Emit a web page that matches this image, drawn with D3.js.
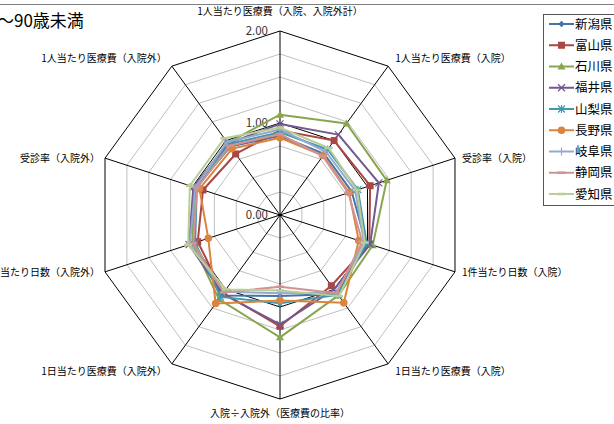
<!DOCTYPE html>
<html><head><meta charset="utf-8">
<script src="https://cdn.jsdelivr.net/npm/d3@7"></script>
<style>
html,body{margin:0;padding:0;background:#fff;}
svg{display:block;font-family:"Noto Sans CJK JP","Noto Sans",sans-serif;}
</style></head>
<body><svg id="c" width="614" height="424"></svg>
<script>
const axesLabels = [
  "1人当たり医療費（入院、入院外計）",
  "1人当たり医療費（入院）",
  "受診率（入院）",
  "1件当たり日数（入院）",
  "1日当たり医療費（入院）",
  "入院÷入院外（医療費の比率）",
  "1日当たり医療費（入院外）",
  "1件当たり日数（入院外）",
  "受診率（入院外）",
  "1人当たり医療費（入院外）"
];
const seriesNames = ["新潟県","富山県","石川県","福井県","山梨県","長野県","岐阜県","静岡県","愛知県"];
const niigata  = [0.86, 0.82, 0.82, 0.98, 1.06, 0.88, 1.08, 0.98, 0.96, 0.92];
const toyama   = [0.92, 1.00, 1.03, 1.02, 0.95, 1.21, 1.05, 0.94, 0.88, 0.82];
const ishikawa = [1.09, 1.23, 1.22, 1.06, 1.08, 1.33, 1.13, 1.00, 0.98, 0.97];
const fukui    = [0.99, 1.08, 1.13, 1.03, 1.00, 1.19, 1.06, 1.04, 0.99, 0.96];
const yamanashi= [0.90, 0.88, 0.89, 0.99, 1.07, 0.96, 1.10, 0.97, 0.95, 0.95];
const nagano   = [0.84, 0.80, 0.79, 0.90, 1.18, 0.93, 1.19, 0.82, 0.92, 0.89];
const gifu     = [0.93, 0.85, 0.86, 0.96, 1.04, 0.85, 1.03, 1.03, 0.97, 0.98];
const shizuoka = [0.88, 0.79, 0.78, 0.94, 1.05, 0.78, 1.04, 0.99, 0.95, 0.93];
const aichi    = [0.95, 0.90, 0.88, 0.97, 1.09, 0.82, 1.00, 1.05, 1.03, 1.03];
const seriesValues = [niigata, toyama, ishikawa, fukui, yamanashi, nagano, gifu, shizuoka, aichi];
const tickValues = [0, 1, 2];
const tickLabels = ["0.00", "1.00", "2.00"];
const gridValues = [0.25, 0.5, 0.75, 1, 1.25, 1.5, 1.75, 2];
const colors = ["#4572A7","#AA4643","#89A54E","#71588F","#4198AF","#DB843D","#93A9CF","#D19392","#B9CD96"];
const markers = ["diamond","square","triangle","x","star","circle","plus","dash","dash"];

const svg = d3.select("#c");
const cx = 280, cy = 215, R = 184;
const r = d3.scaleLinear().domain([0, 2]).range([0, R]);
const n = axesLabels.length;
const ang = d3.scaleLinear().domain([0, n]).range([0, 2 * Math.PI]);
const px = (i, v) => cx + Math.sin(ang(i)) * r(v);
const py = (i, v) => cy - Math.cos(ang(i)) * r(v);

// top border
svg.append("line").attr("x1",0).attr("x2",614).attr("y1",4.5).attr("y2",4.5)
  .attr("stroke","#7f7f7f").attr("stroke-width",1);

// title
svg.append("text").attr("x",-3).attr("y",27).attr("font-size",17).attr("fill","#000")
  .text("～90歳未満");

const g = svg.append("g");
// grid rings
gridValues.forEach(v => {
  const pts = d3.range(n).map(i => [px(i, v), py(i, v)]);
  g.append("path").attr("d", d3.line().curve(d3.curveLinearClosed)(pts))
    .attr("fill","none")
    .attr("stroke", (v === 1 || v === 2) ? "#000" : "#bfbfbf")
    .attr("stroke-width", 1);
});
// spokes
d3.range(n).forEach(i => {
  g.append("line").attr("x1",cx).attr("y1",cy).attr("x2",px(i,2)).attr("y2",py(i,2))
    .attr("stroke","#000").attr("stroke-width",1);
});
// tick labels
tickValues.forEach((v, k) => {
  g.append("text").attr("x", cx - 12).attr("y", cy - r(v) + 4)
    .attr("text-anchor","end").attr("font-size",11.5).attr("fill","#333").text(tickLabels[k]);
});
// axis labels
axesLabels.forEach((lab, i) => {
  const x = px(i, 2), y = py(i, 2);
  let anchor = "middle", dx = 0, dy = 0;
  const s = Math.sin(ang(i)), c = Math.cos(ang(i));
  if (Math.abs(s) < 0.01) { anchor = "middle"; dy = c > 0 ? -16 : 18; }
  else if (s > 0) { anchor = "start"; dx = 7; dy = c > 0.5 ? -4 : (c < -0.5 ? 11 : 4); }
  else { anchor = "end"; dx = -5; dy = c > 0.5 ? -4 : (c < -0.5 ? 11 : 4); }
  g.append("text").attr("x", x + dx).attr("y", y + dy).attr("text-anchor", anchor)
    .attr("font-size",10).attr("fill","#000").text(lab);
});

function drawMarker(sel, type, color, x, y) {
  const s = 3.2;
  if (type === "diamond") sel.append("path").attr("d",`M${x},${y-s}L${x+s},${y}L${x},${y+s}L${x-s},${y}Z`).attr("fill",color);
  else if (type === "square") sel.append("rect").attr("x",x-3.5).attr("y",y-3.5).attr("width",7).attr("height",7).attr("fill",color);
  else if (type === "triangle") sel.append("path").attr("d",`M${x},${y-4}L${x+4},${y+3}L${x-4},${y+3}Z`).attr("fill",color);
  else if (type === "circle") sel.append("circle").attr("cx",x).attr("cy",y).attr("r",3.8).attr("fill",color);
  else if (type === "x") sel.append("path").attr("d",`M${x-3.5},${y-3.5}L${x+3.5},${y+3.5}M${x-3.5},${y+3.5}L${x+3.5},${y-3.5}`).attr("stroke",color).attr("stroke-width",1.2);
  else if (type === "star") sel.append("path").attr("d",`M${x-3.5},${y-3.5}L${x+3.5},${y+3.5}M${x-3.5},${y+3.5}L${x+3.5},${y-3.5}M${x},${y-4}L${x},${y+4}`).attr("stroke",color).attr("stroke-width",1.2);
  else if (type === "plus") sel.append("path").attr("d",`M${x-4},${y}L${x+4},${y}M${x},${y-4}L${x},${y+4}`).attr("stroke",color).attr("stroke-width",1.2);
  else if (type === "dash") sel.append("path").attr("d",`M${x-4},${y}L${x+4},${y}`).attr("stroke",color).attr("stroke-width",2.5);
}

// series
const radial = d3.lineRadial().angle((d, i) => ang(i)).radius(d => r(d)).curve(d3.curveLinearClosed);
seriesValues.forEach((vals, k) => {
  const sg = svg.append("g");
  sg.append("path").attr("transform",`translate(${cx},${cy})`).attr("d", radial(vals))
    .attr("fill","none").attr("stroke",colors[k]).attr("stroke-width",2).attr("stroke-linejoin","round");
  vals.forEach((v, i) => drawMarker(sg, markers[k], colors[k], px(i, v), py(i, v)));
});

// legend
const lg = svg.append("g");
lg.append("rect").attr("x",543.5).attr("y",14.5).attr("width",80).attr("height",191)
  .attr("fill","#fff").attr("stroke","#555").attr("stroke-width",1);
seriesNames.forEach((name, k) => {
  const y = 24 + k * 21.25;
  lg.append("line").attr("x1",549).attr("x2",574).attr("y1",y).attr("y2",y)
    .attr("stroke",colors[k]).attr("stroke-width",2);
  drawMarker(lg, markers[k], colors[k], 561.5, y);
  lg.append("text").attr("x",575).attr("y",y+4.5).attr("font-size",12.5).attr("fill","#000").text(name);
});
</script></body></html>
